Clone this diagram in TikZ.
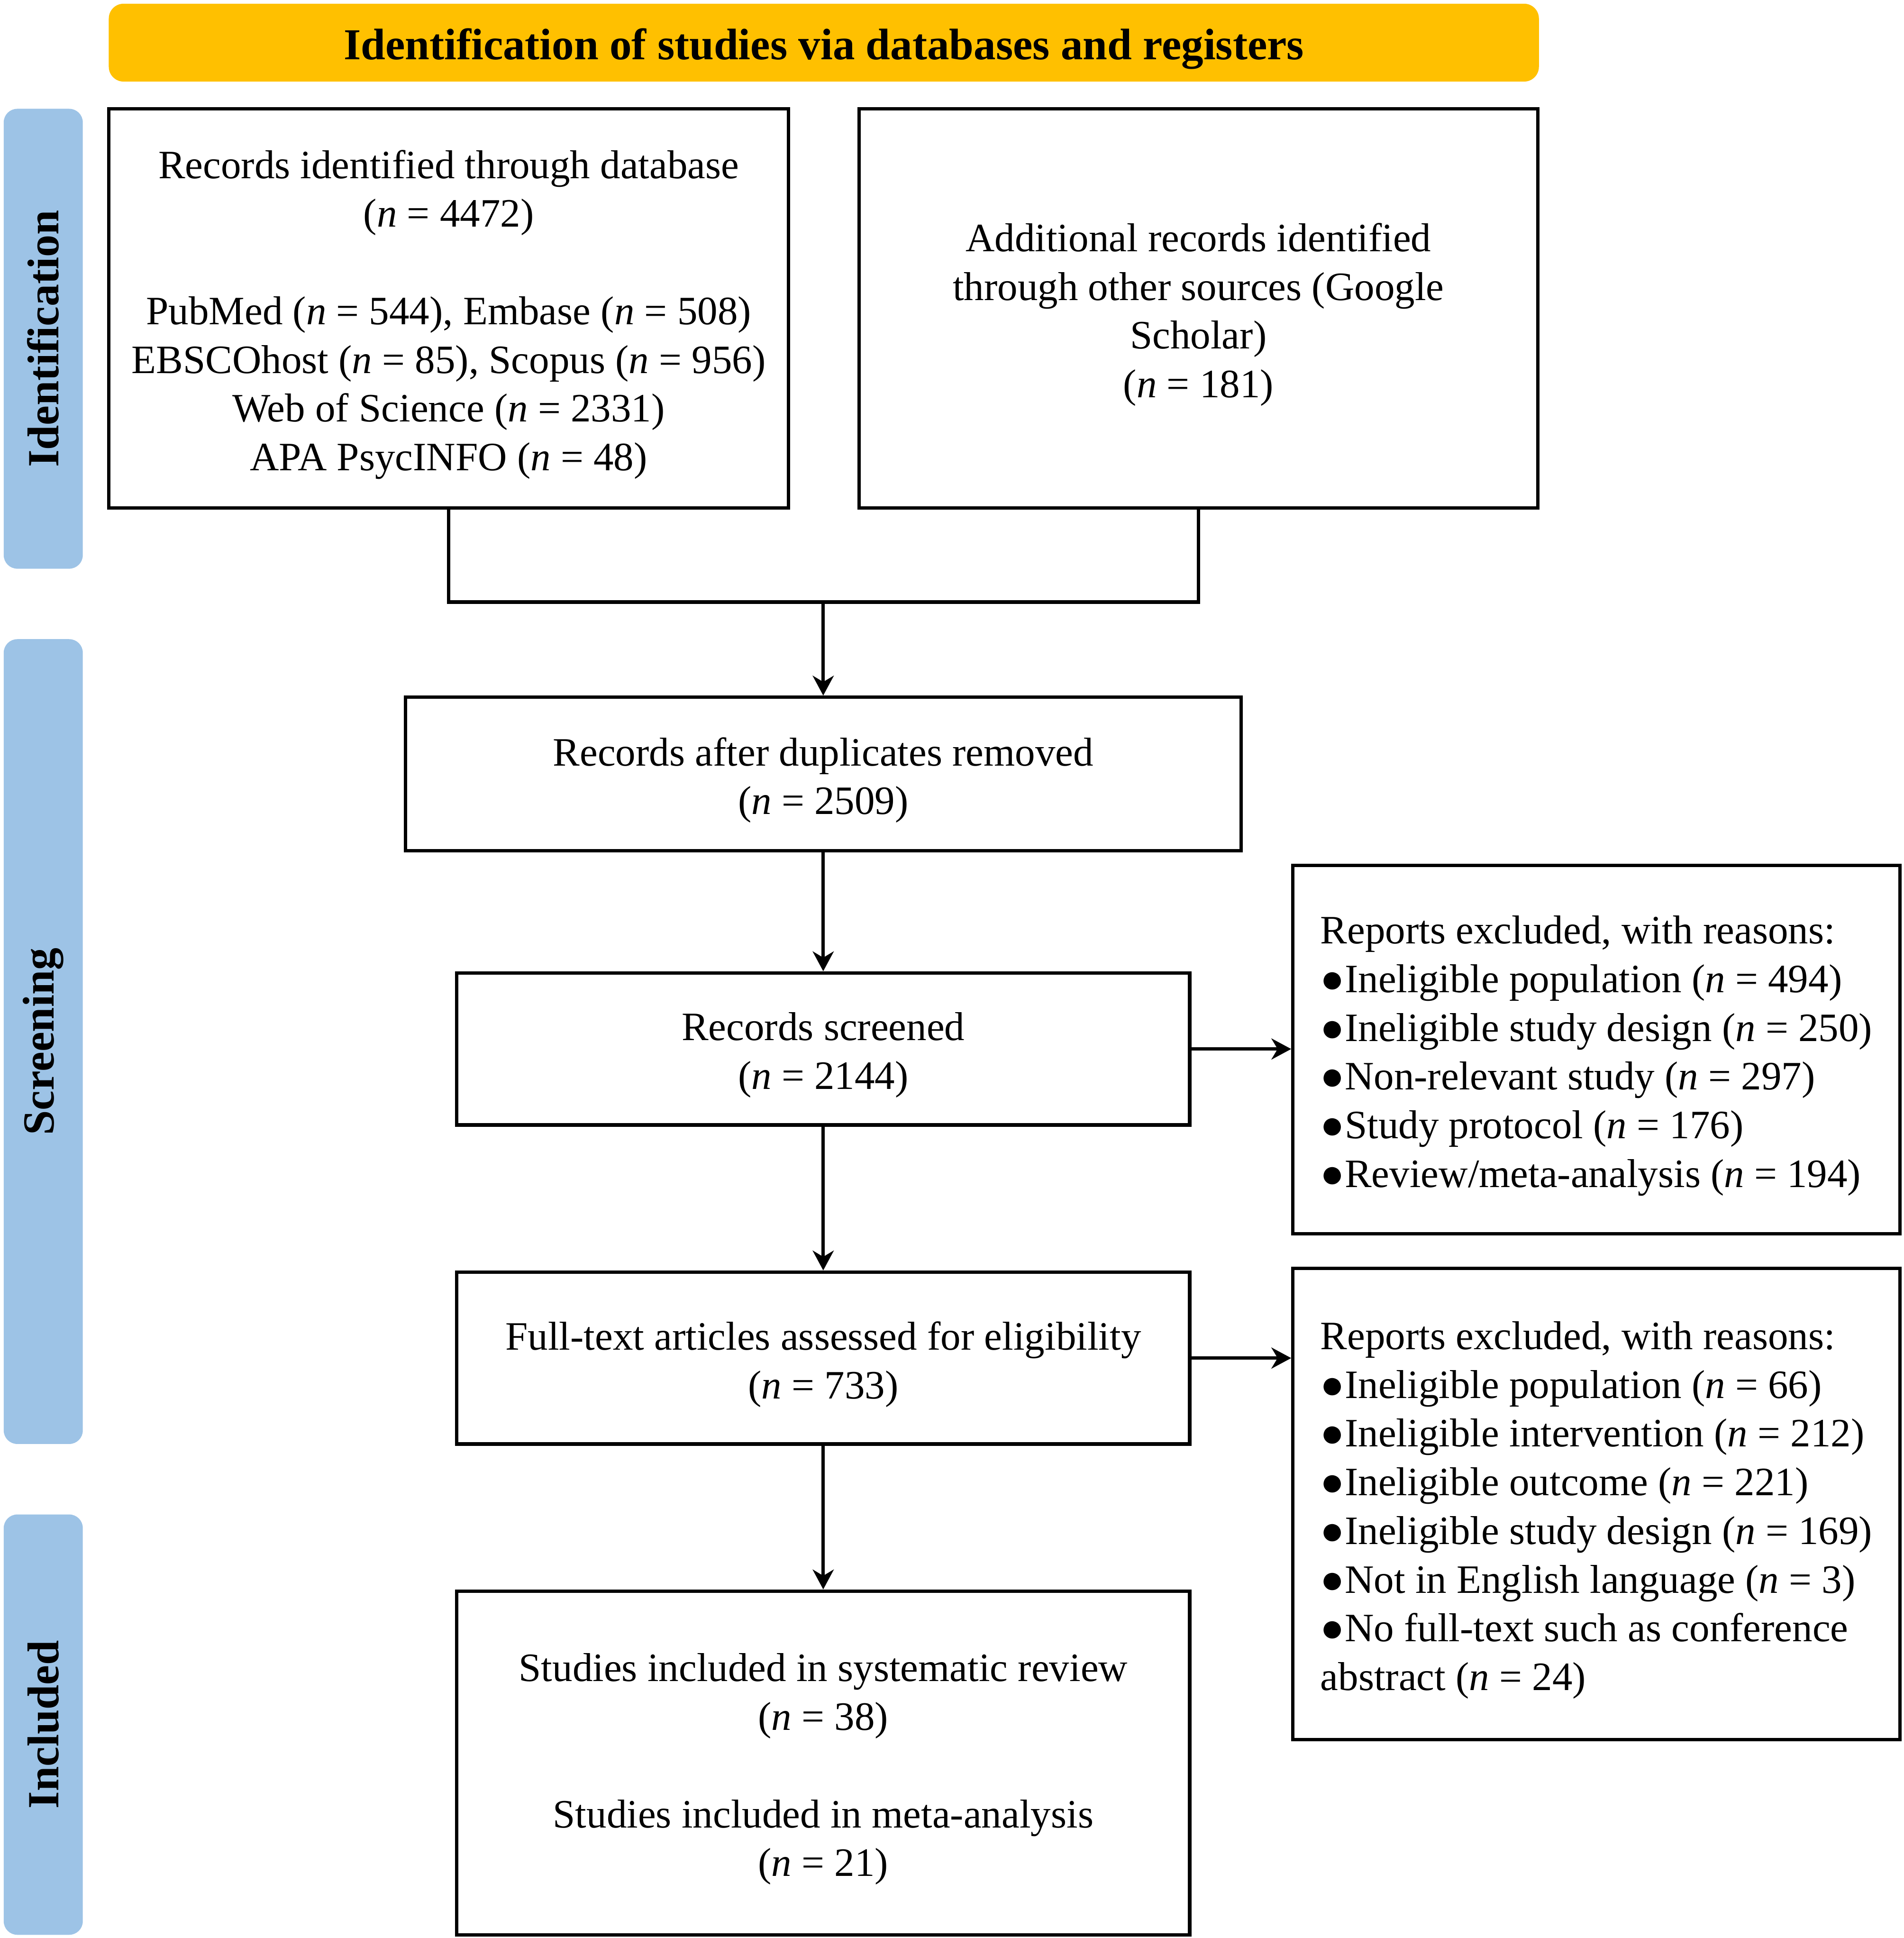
\documentclass[tikz,border=0pt]{standalone}
\usepackage{fontspec}
\newfontfamily\tnr{Liberation Serif}
\usetikzlibrary{arrows.meta}
\definecolor{bannercol}{HTML}{FFC000}
\definecolor{sidecol}{HTML}{9DC3E6}
\newcommand{\nvar}{\textit{n}}
\begin{document}
\begin{tikzpicture}[x=1pt,y=-1pt,
  txt/.style={font=\tnr\fontsize{32.6}{39.4}\selectfont,inner sep=0pt,yshift=-5pt},
  ctxt/.style={txt,align=center},
  ltxt/.style={txt,align=left},
  frame/.style={draw=black,line width=2.8pt,inner sep=0pt,fill=white},
  side/.style={fill=sidecol,rounded corners=11pt,inner sep=0pt},
  sidelabel/.style={rotate=90,inner sep=0pt,font=\tnr\bfseries\fontsize{36}{40}\selectfont},
  arr/.style={line width=2.8pt,-{Stealth[length=16pt,width=17pt,inset=5pt]}},
  conn/.style={line width=2.8pt}]
\useasboundingbox (0,0) rectangle (1540,1567.6);

% banner
\node[fill=bannercol, rounded corners=12pt, minimum width=1157pt, minimum height=63pt,
  inner sep=0pt] (ban) at (666.5,34.5) {};
\node[inner sep=0pt, yshift=-5pt, font=\tnr\bfseries\fontsize{35.7}{40}\selectfont] (bant) at (ban)
  {Identification of studies via databases and registers};

% side bars
\node[side, minimum width=64pt, minimum height=372pt] (sid) at (35,274) {};
\node[sidelabel] (sidl) at (sid) {Identification};
\node[side, minimum width=64pt, minimum height=651pt] (sscr) at (35,842.5) {};
\node[sidelabel] (sscrl) at (sscr) {Screening};
\node[side, minimum width=64pt, minimum height=340pt] (sinc) at (35,1395) {};
\node[sidelabel] (sincl) at (sinc) {Included};

% boxes
\node[frame, minimum width=550pt, minimum height=323pt] (b1) at (363,249.5) {};
\node[ctxt] (b1t) at (b1)
  {Records identified through database\\(\nvar{} = 4472)\\[39.4pt]
   PubMed (\nvar{} = 544), Embase (\nvar{} = 508)\\
   EBSCOhost (\nvar{} = 85), Scopus (\nvar{} = 956)\\
   Web of Science (\nvar{} = 2331)\\
   APA PsycINFO (\nvar{} = 48)};
\node[frame, minimum width=549pt, minimum height=323pt] (b2) at (969.5,249.5) {};
\node[ctxt] (b2t) at (b2)
  {Additional records identified\\through other sources (Google\\Scholar)\\(\nvar{} = 181)};
\node[frame, minimum width=676pt, minimum height=124pt] (b3) at (666,626) {};
\node[ctxt] (b3t) at (b3) {Records after duplicates removed\\(\nvar{} = 2509)};
\node[frame, minimum width=593pt, minimum height=123pt] (b4) at (666,848.5) {};
\node[ctxt] (b4t) at (b4) {Records screened\\(\nvar{} = 2144)};
\node[frame, minimum width=593pt, minimum height=139pt] (b5) at (666,1098.5) {};
\node[ctxt] (b5t) at (b5) {Full-text articles assessed for eligibility\\(\nvar{} = 733)};
\node[frame, minimum width=593pt, minimum height=278pt] (b6) at (666,1426) {};
\node[ctxt] (b6t) at (b6)
  {Studies included in systematic review\\(\nvar{} = 38)\\[39.4pt]
   Studies included in meta-analysis\\(\nvar{} = 21)};
\node[frame, minimum width=491pt, minimum height=298pt] (e1) at (1291.5,849) {};
\node[ltxt] (e1t) at (e1)
  {Reports excluded, with reasons:\\
   ●Ineligible population (\nvar{} = 494)\\
   ●Ineligible study design (\nvar{} = 250)\\
   ●Non-relevant study (\nvar{} = 297)\\
   ●Study protocol (\nvar{} = 176)\\
   ●Review/meta-analysis (\nvar{} = 194)};
\node[frame, minimum width=491pt, minimum height=381pt] (e2) at (1291.5,1216.5) {};
\node[ltxt] (e2t) at (e2)
  {Reports excluded, with reasons:\\
   ●Ineligible population (\nvar{} = 66)\\
   ●Ineligible intervention (\nvar{} = 212)\\
   ●Ineligible outcome (\nvar{} = 221)\\
   ●Ineligible study design (\nvar{} = 169)\\
   ●Not in English language (\nvar{} = 3)\\
   ●No full-text such as conference\\
   abstract (\nvar{} = 24)};

% connectors
\coordinate (m) at (666,487);
\draw[conn] (b1.south) |- (m) -| (b2.south);
\draw[arr] (m) -- (b3.north);
\draw[arr] (b3.south) -- (b4.north);
\draw[arr] (b4.south) -- (b5.north);
\draw[arr] (b5.south) -- (b6.north);
\draw[arr] (b4.east) -- (b4.east -| e1.west);
\draw[arr] (b5.east) -- (b5.east -| e2.west);
\end{tikzpicture}
\end{document}
